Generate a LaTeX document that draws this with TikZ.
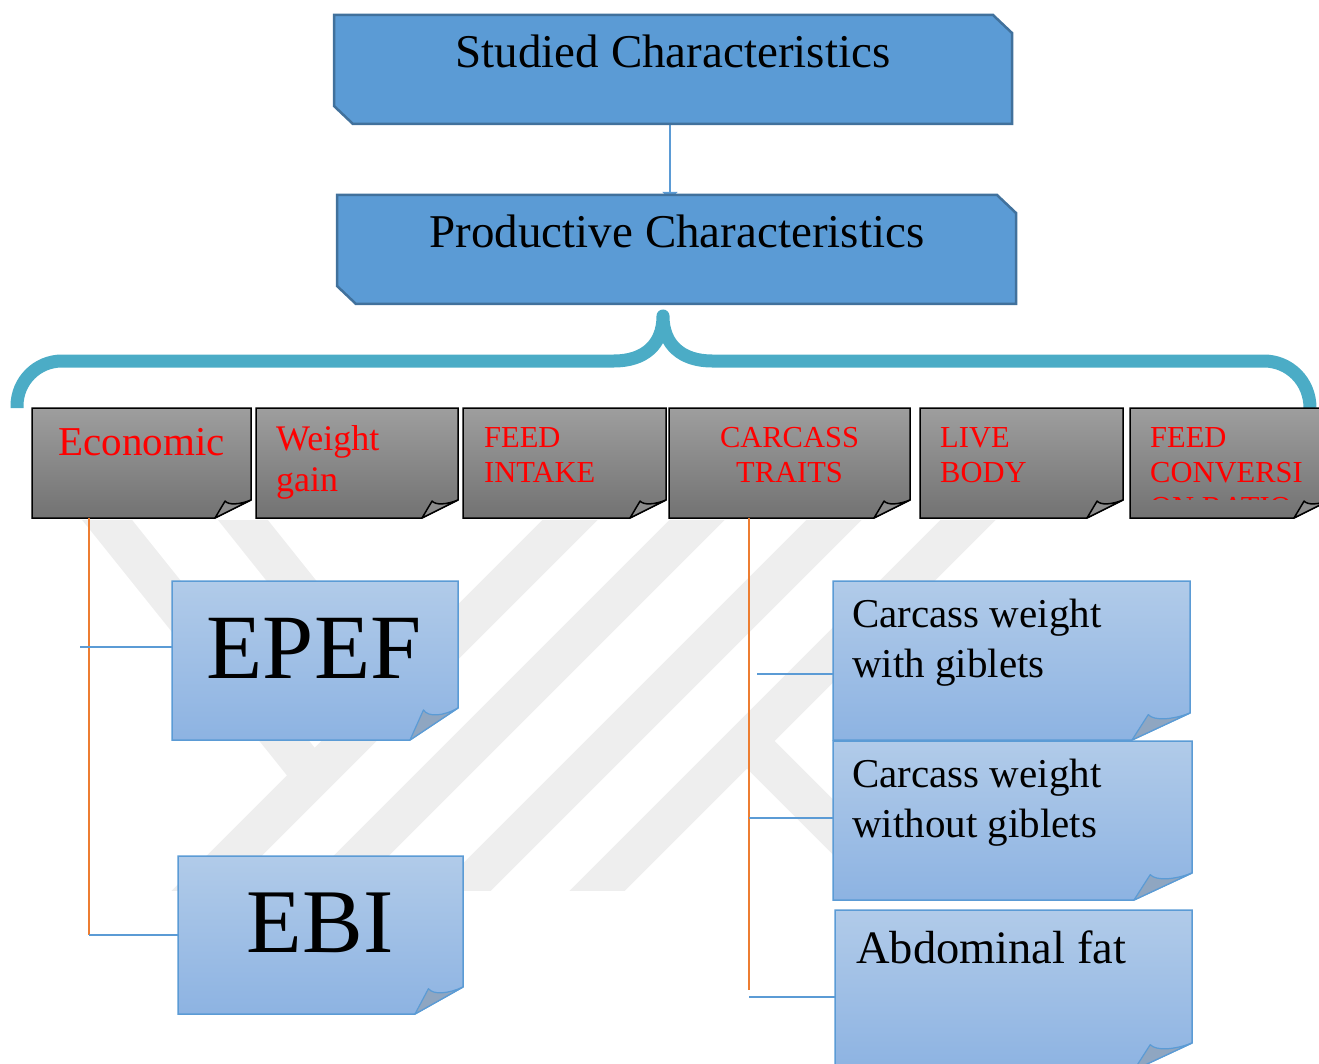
\documentclass[tikz,border=0pt]{standalone}
\usepackage{fontspec}
\setmainfont{Liberation Serif}
\usetikzlibrary{arrows.meta}

\definecolor{headfill}{HTML}{5B9BD5}
\definecolor{headdraw}{HTML}{41719C}
\definecolor{bracecol}{HTML}{4BACC6}
\definecolor{greytop}{HTML}{9E9E9E}
\definecolor{greybot}{HTML}{727272}
\definecolor{greyfoldc}{HTML}{8C8C8C}
\definecolor{notetop}{HTML}{B1CBE9}
\definecolor{notebot}{HTML}{8DB3E2}
\definecolor{notedraw}{HTML}{5B9BD5}
\definecolor{notefoldc}{HTML}{8FA6C1}
\definecolor{trunkcol}{HTML}{ED7D31}
\definecolor{markcol}{HTML}{EEEEEE}

\tikzset{
  frame/.style={rectangle, inner sep=0pt, outer sep=0pt},
  headshape/.style={fill=headfill, draw=headdraw, line width=2.5pt},
  greybody/.style={top color=greytop, bottom color=greybot, draw=black, line width=1.5pt},
  greyfold/.style={fill=greyfoldc, draw=black, line width=1.5pt, line join=round},
  bluebody/.style={top color=notetop, bottom color=notebot, draw=notedraw, line width=1.5pt},
  bluefold/.style={fill=notefoldc, draw=notedraw, line width=1.2pt, line join=round},
  headtxt/.style={inner sep=0pt, anchor=base, font=\fontsize{47}{52}\selectfont},
  redtxt/.style={inner sep=0pt, text=red, align=left, anchor=north west},
  notetxt/.style={inner sep=0pt, align=left, anchor=north west},
  linkblue/.style={draw=headfill, line width=1.3pt},
  linkorange/.style={draw=trunkcol, line width=1.3pt},
  bracecurve/.style={draw=bracecol, line width=13pt, line join=round},
  markband/.style={draw=markcol, line width=39pt}
}

\newcommand{\headbox}[1]{%
  \path[headshape] (#1.north west) -- ([xshift=-19]#1.north east) -- ([yshift=-18]#1.north east)
    -- (#1.south east) -- ([xshift=19]#1.south west) -- ([yshift=18]#1.south west) -- cycle;}

\newcommand{\notebox}[4]{%
  \path[#4body] (#1.north west) -- (#1.north east) -- ([yshift=#3]#1.south east)
    -- ([xshift=-#2]#1.south east) -- (#1.south west) -- cycle;
  \path[#4fold] ([xshift=-#2]#1.south east) -- ([xshift={-0.72*#2}, yshift={0.94*#3}]#1.south east)
    .. controls ([xshift={-0.62*#2}, yshift={0.7*#3}]#1.south east) and ([xshift={-0.3*#2}, yshift={0.75*#3}]#1.south east)
    .. ([yshift=#3]#1.south east) -- cycle;}

\begin{document}
\begin{tikzpicture}[x=1pt, y=-1pt]
\useasboundingbox (0,0) rectangle (1319,1064);
\clip (0,0) rectangle (1319,1064);

\begin{scope}
  \clip (80,520) rectangle (1000,890);
  \foreach \xt in {570,697,834,968}
    \draw[markband] (\xt+60,460) -- (\xt-440,960);
  \draw[markband] (59,460) -- (314,778);
  \draw[markband] (195,460) -- (389,703);
  \draw[markband] (748,742) -- (880,874);
\end{scope}

\node[frame, minimum width=678, minimum height=109] (stud) at (673,69.5) {};
\node[frame, minimum width=679, minimum height=109] (prod) at (676.5,249.5) {};
\draw[linkblue, -{Triangle[length=8pt, width=15pt]}] ([xshift=-3]stud.south) -- ([xshift=-6.5, yshift=-5]prod.north);
\headbox{stud}
\headbox{prod}
\node[headtxt] (studtxt) at (673,68) {Studied Characteristics};
\node[headtxt] (prodtxt) at (677,248) {Productive Characteristics};

\coordinate (bracetip) at (663,316);
\draw[bracecurve] (17,408) -- (17,406) .. controls (17,381) and (37,361) .. (62,361) -- (614,361)
  .. controls (644,361) and (663,345) .. (bracetip) .. controls (663,345) and (682,361) .. (712,361)
  -- (1264,361) .. controls (1289,361) and (1310,381) .. (1310,408);

\foreach \nm/\xa/\xb in {eco/32/251, wg/256/458, fi/463/666, ct/669/910, lb/920/1123, fc/1130/1330}
  \node[frame, minimum width=\xb-\xa, minimum height=110] (\nm) at ({(\xa+\xb)/2},463) {};
\foreach \nm in {eco,wg,fi,ct,lb,fc}
  {\notebox{\nm}{36}{18}{grey}}

\node[inner sep=0pt, text=red, anchor=base, font=\fontsize{41}{46}\selectfont] (ecotxt) at (141.5,455) {Economic};
\node[redtxt, font=\fontsize{36}{41}\selectfont] (wgtxt) at (276,425) {Weight\\gain};
\node[redtxt, font=\fontsize{30.5}{35}\selectfont] (fitxt) at (484,427) {FEED\\INTAKE};
\node[redtxt, align=center, anchor=north, font=\fontsize{30.5}{35}\selectfont] (cttxt) at (789.5,427) {CARCASS\\TRAITS};
\node[redtxt, font=\fontsize{30.5}{35}\selectfont] (lbtxt) at (940,427) {LIVE\\BODY};
\begin{scope}
  \clip (1130,408) rectangle (1330,499);
  \node[redtxt, font=\fontsize{30.5}{35}\selectfont] (fctxt) at (1150,427) {FEED\\CONVERSI\\ON RATIO};
\end{scope}

\node[frame, minimum width=286, minimum height=159] (epef) at (315,660.5) {};
\node[frame, minimum width=285, minimum height=158] (ebi) at (320.5,935) {};
\node[frame, minimum width=357, minimum height=159] (cw1) at (1011.5,660.5) {};
\node[frame, minimum width=359, minimum height=159] (cw2) at (1012.5,820.5) {};
\node[frame, minimum width=357, minimum height=160] (abd) at (1013.5,990) {};

\coordinate (ecoroot) at ([xshift=57]eco.south west);
\coordinate (ctroot) at ([xshift=80]ct.south west);
\draw[linkorange] (ecoroot) -- (ecoroot |- ebi.west);
\draw[linkorange] (ctroot) -- (ctroot |- abd.west);
\draw[linkblue] ([yshift=13.5]epef.west) -- +(-92,0);
\draw[linkblue] (ecoroot |- ebi.west) -- (ebi.west);
\draw[linkblue] ([yshift=-13.5]cw1.west) -- +(-76,0);
\draw[linkblue] ([yshift=2.5]cw2.west) -- +(-84,0);
\draw[linkblue] ([yshift=-7]abd.west) -- +(-86,0);

\notebox{epef}{48}{32}{blue}
\notebox{ebi}{48}{27}{blue}
\foreach \nm in {cw1,cw2,abd}
  {\notebox{\nm}{58}{27}{blue}}

\node[inner sep=0pt, anchor=base, font=\fontsize{92}{96}\selectfont] (epeftxt) at (314,678) {EPEF};
\node[inner sep=0pt, anchor=base, font=\fontsize{91}{96}\selectfont] (ebitxt) at (320,952) {EBI};
\node[notetxt, font=\fontsize{41}{50}\selectfont] (cw1txt) at (852,599) {Carcass weight\\with giblets};
\node[notetxt, font=\fontsize{41}{50}\selectfont] (cw2txt) at (852,759) {Carcass weight\\without giblets};
\node[notetxt, font=\fontsize{46.5}{52}\selectfont] (abdtxt) at (856,931) {Abdominal fat};
\end{tikzpicture}
\end{document}
